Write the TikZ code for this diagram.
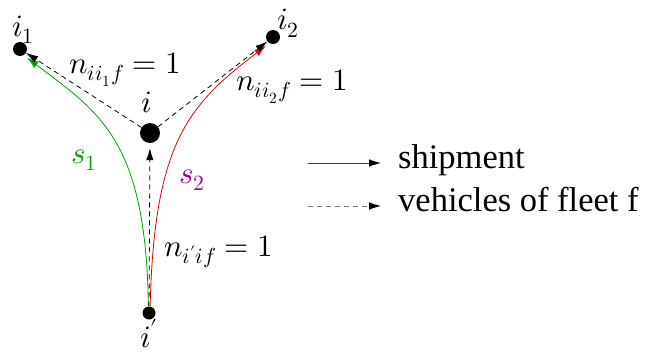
\documentclass[tikz,border=0pt]{standalone}
\usepackage{fontspec}
\usepackage{unicode-math}
\setmainfont{Liberation Serif}
\setmathfont{Latin Modern Math}
\usetikzlibrary{arrows.meta}
\definecolor{sgreen}{RGB}{0,160,0}
\definecolor{sred}{RGB}{230,0,0}
\definecolor{spurple}{RGB}{160,0,160}
\tikzset{
  dot/.style={circle,fill=black,inner sep=0pt,minimum size=#1},
  tip/.style={-{Latex[length=12pt,width=7.5pt]}},
  ktip/.style={-{Latex[length=12pt,width=7.5pt,black]}},
  veh/.style={ktip,dashed,dash pattern=on 5pt off 4pt,line width=0.8pt},
  ship/.style={tip,line width=0.8pt,shorten >=4pt},
  lbl/.style={inner sep=0pt,anchor=base west,font=\fontsize{31}{36}\selectfont},
  leg/.style={inner sep=0pt,anchor=base west,font=\fontsize{34.5}{40}\selectfont},
}
\begin{document}
\begin{tikzpicture}[x=1pt,y=-1pt]
\useasboundingbox (0,0) rectangle (646,356);
% nodes
\node[dot=14pt] (i1) at (20,49) {};
\node[dot=14pt] (i2) at (273,37) {};
\node[dot=20pt] (i) at (150,133) {};
\node[dot=13pt] (ip) at (149,313) {};
% node labels
\node[lbl] (li1) at (12,36) {$i_1$};
\node[lbl] (li2) at (277,30) {$i_2$};
\node[lbl] (li) at (141,112) {$i$};
\node[lbl] (lip) at (140,347) {$i'$};
% shipments
\draw[ship,sgreen] (ip.95) .. controls (146,140) and (100,113) .. (i1.-59);
\draw[ship,sred] (ip.80) .. controls (154,140) and (190,104) .. (i2.-121);
% vehicles
\draw[veh,shorten >=5pt] (ip) -- (i);
\draw[veh] (i) -- (i1);
\draw[veh] (i) -- (i2);
% edge labels
\node[lbl] (n1) at (69,73) {$n_{ii_1f}=1$};
\node[lbl] (n2) at (236,90) {$n_{ii_2f}=1$};
\node[lbl] (n3) at (164,256) {$n_{i'if}=1$};
\node[lbl,text=sgreen] (s1) at (71,163) {$s_1$};
\node[lbl,text=spurple] (s2) at (179,183) {$s_2$};
% legend
\coordinate (la1) at (308,163);
\coordinate (lb1) at (381,163);
\coordinate (la2) at (308,206);
\coordinate (lb2) at (381,206);
\draw[ktip,line width=0.8pt,draw=black!75] (la1) -- (lb1);
\draw[veh,draw=black!55] (la2) -- (lb2);
\node[leg] (t1) at (398,168) {shipment};
\node[leg] (t2) at (398,211) {vehicles of fleet f};
\end{tikzpicture}
\end{document}
